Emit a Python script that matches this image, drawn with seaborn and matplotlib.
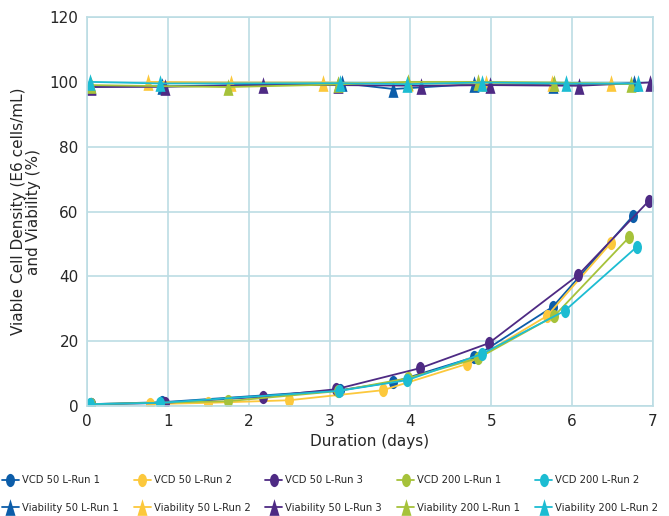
import numpy as np
import pandas as pd
import matplotlib
matplotlib.use('Agg')
import matplotlib.pyplot as plt
from matplotlib.path import Path
import seaborn as sns

# run names and colours
runs = ['50 L-Run 1', '50 L-Run 2', '50 L-Run 3', '200 L-Run 1', '200 L-Run 2']
colors = ['#0c5da9', '#fcc83c', '#4e2a84', '#a6c23a', '#1cbcd2']

# viable cell density (E6 cells/mL)
vcd_days_1 = [0.05, 0.93, 3.13, 3.79, 4.79, 5.76, 6.75]
vcd_vals_1 = [0.6, 1.2, 4.9, 7.4, 15.1, 30.6, 58.6]
vcd_days_2 = [0.78, 1.5, 2.5, 3.66, 4.70, 5.69, 6.48]
vcd_vals_2 = [0.6, 1.0, 1.8, 4.9, 13.0, 27.8, 50.3]
vcd_days_3 = [0.05, 0.96, 2.18, 3.08, 4.12, 4.97, 6.07, 6.95]
vcd_vals_3 = [0.5, 1.0, 2.9, 5.2, 11.7, 19.4, 40.3, 63.3]
vcd_days_4 = [0.05, 1.74, 3.10, 3.97, 4.84, 5.78, 6.71]
vcd_vals_4 = [0.6, 1.5, 4.6, 8.6, 14.8, 27.8, 52.2]
vcd_days_5 = [0.04, 0.90, 3.12, 3.96, 4.88, 5.91, 6.80]
vcd_vals_5 = [0.6, 1.0, 4.7, 8.0, 16.0, 29.4, 49.1]

# viability (%)
via_days_1 = [0.05, 0.93, 3.15, 3.79, 4.79, 5.76, 6.76]
via_vals_1 = [98.6, 98.6, 99.6, 97.8, 99.3, 99.1, 99.5]
via_days_2 = [0.75, 1.78, 2.92, 3.97, 4.93, 5.75, 6.48]
via_vals_2 = [100.0, 99.8, 99.8, 99.5, 99.5, 99.5, 99.5]
via_days_3 = [0.05, 0.96, 2.18, 3.10, 4.13, 4.98, 6.08, 6.96]
via_vals_3 = [98.4, 98.5, 99.0, 99.0, 98.8, 99.0, 98.8, 99.8]
via_days_4 = [0.05, 1.74, 3.10, 3.97, 4.84, 5.78, 6.73]
via_vals_4 = [99.0, 98.4, 99.2, 100.0, 100.0, 99.8, 99.3]
via_days_5 = [0.04, 0.90, 3.13, 3.96, 4.88, 5.92, 6.81]
via_vals_5 = [100.0, 99.5, 99.6, 99.3, 99.8, 99.5, 99.5]

vcd_days = [vcd_days_1, vcd_days_2, vcd_days_3, vcd_days_4, vcd_days_5]
vcd_vals = [vcd_vals_1, vcd_vals_2, vcd_vals_3, vcd_vals_4, vcd_vals_5]
via_days = [via_days_1, via_days_2, via_days_3, via_days_4, via_days_5]
via_vals = [via_vals_1, via_vals_2, via_vals_3, via_vals_4, via_vals_5]

rows = []
for i, run in enumerate(runs):
    for d, v in zip(vcd_days[i], vcd_vals[i]):
        rows.append(['VCD ' + run, d, v])
    for d, v in zip(via_days[i], via_vals[i]):
        rows.append(['Viability ' + run, d, v])
df = pd.DataFrame(rows, columns=['series', 'day', 'value'])

# tall ellipse and narrow triangle markers like the excel chart
circ = Path.unit_circle()
ellipse = Path(circ.vertices * np.array([0.68, 1.0]), circ.codes)
triangle = Path([(-0.3, -0.5), (0.3, -0.5), (0.0, 0.5), (-0.3, -0.5)],
                [Path.MOVETO, Path.LINETO, Path.LINETO, Path.CLOSEPOLY])

sns.set_style('white')
plt.rcParams['font.family'] = ['DejaVu Sans']
grid_col = '#bcdde4'
text_col = '#262626'

fig = plt.figure(figsize=(6.69, 5.16), dpi=100)
ax = fig.add_axes([0.130, 0.213, 0.846, 0.754])

handles = []
labels = []
for i, run in enumerate(runs):
    for kind, mk, ms in [('VCD ', ellipse, 9.5), ('Viability ', triangle, 12)]:
        name = kind + run
        sub = df[df['series'] == name]
        sns.lineplot(data=sub, x='day', y='value', ax=ax, color=colors[i],
                     marker=mk, markersize=ms, markeredgewidth=0,
                     linewidth=1.3, estimator=None, sort=False, label=name)
        handles.append(ax.lines[-1])
        labels.append(name)

ax.legend_.remove()
ax.set_xlim(0, 7)
ax.set_ylim(0, 120)
ax.set_xticks(range(0, 8))
ax.set_yticks(range(0, 121, 20))
ax.grid(True, color=grid_col, linewidth=1.2)
ax.set_axisbelow(True)
for s in ax.spines.values():
    s.set_color(grid_col)
    s.set_linewidth(1.2)
ax.tick_params(length=0, labelsize=11, colors=text_col, pad=6)
ax.set_xlabel('Duration (days)', fontsize=11, color=text_col, labelpad=3)
ax.set_ylabel('Viable Cell Density (E6 cells/mL)\nand Viability (%)',
              fontsize=11, color=text_col, labelpad=6, linespacing=1.0)

leg = fig.legend(handles, labels, ncol=5, loc='lower left',
                 bbox_to_anchor=(-0.006, -0.005), frameon=False, fontsize=7.2,
                 handlelength=1.7, handletextpad=0.3, columnspacing=1.5,
                 labelspacing=1.75, borderaxespad=0.2)
for t in leg.get_texts():
    t.set_color(text_col)

fig.savefig('out.png', dpi=100)
